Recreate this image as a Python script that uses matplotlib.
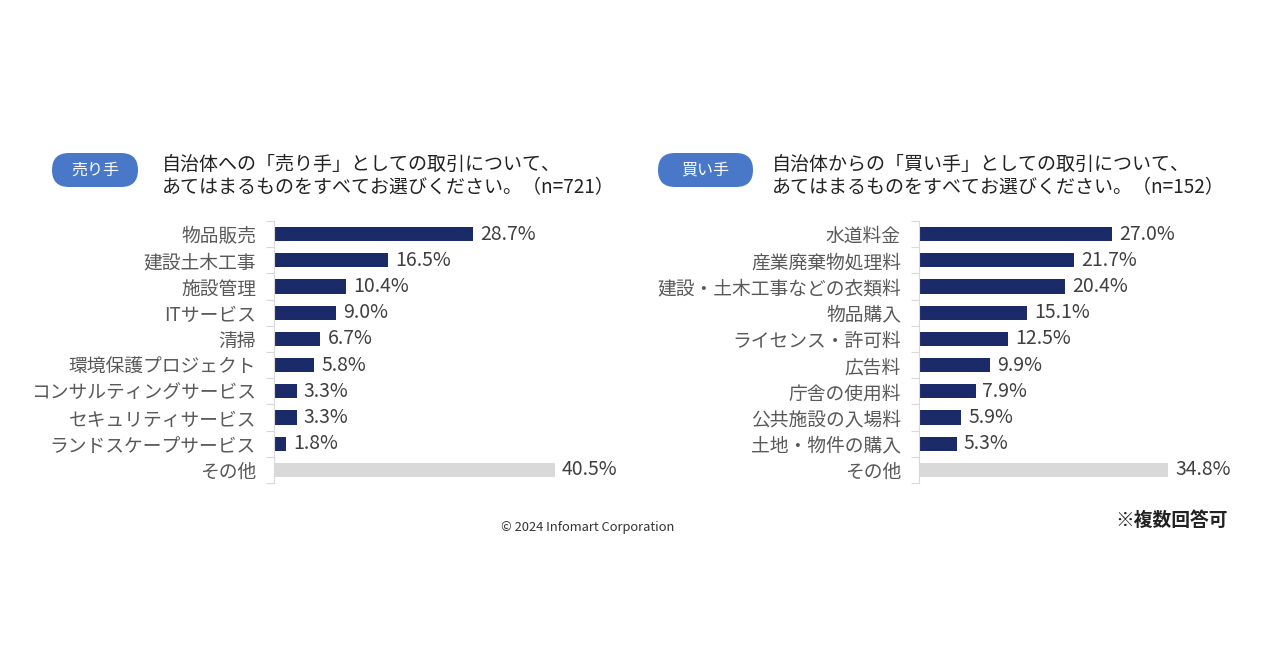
import matplotlib.pyplot as plt
from matplotlib.patches import FancyBboxPatch
from matplotlib.ticker import FixedLocator

plt.rcParams['font.family'] = ['Noto Sans CJK JP', 'DejaVu Sans']

# Seller side (n=721)
sell_items = ['物品販売', '建設土木工事', '施設管理', 'ITサービス', '清掃',
              '環境保護プロジェクト', 'コンサルティングサービス',
              'セキュリティサービス', 'ランドスケープサービス', 'その他']
sell_vals = [28.7, 16.5, 10.4, 9.0, 6.7, 5.8, 3.3, 3.3, 1.8, 40.5]

# Buyer side (n=152)
buy_items = ['水道料金', '産業廃棄物処理料', '建設・土木工事などの衣類料',
             '物品購入', 'ライセンス・許可料', '広告料', '庁舎の使用料',
             '公共施設の入場料', '土地・物件の購入', 'その他']
buy_vals = [27.0, 21.7, 20.4, 15.1, 12.5, 9.9, 7.9, 5.9, 5.3, 34.8]

navy = '#1b2a68'
grey = '#d9d9d9'
badge_blue = '#4a78c8'

W, H = 1280, 670
fig = plt.figure(figsize=(12.8, 6.7), dpi=100)
fig.patch.set_facecolor('white')


def px_axes(x0, y0, w, h):
    return fig.add_axes([x0 / W, 1 - (y0 + h) / H, w / W, h / H])


# overlay in pixel coordinates for the header pieces
bg = fig.add_axes([0, 0, 1, 1])
bg.set_xlim(0, W)
bg.set_ylim(H, 0)
bg.axis('off')


def draw_panel(ax, items, vals, xmax):
    n = len(items)
    y = list(range(n))
    colors = [navy] * (n - 1) + [grey]
    ax.barh(y, vals, height=0.54, color=colors, zorder=2)
    ax.set_ylim(n - 0.5, -0.5)
    ax.set_xlim(0, xmax)
    ax.set_yticks(y)
    ax.set_yticklabels(items, fontsize=13.5, color='#595959')
    ax.yaxis.set_minor_locator(FixedLocator([i - 0.5 for i in range(n + 1)]))
    ax.tick_params(axis='y', which='major', length=0, pad=13)
    ax.tick_params(axis='y', which='minor', length=6, color='#d9d9d9', width=0.8)
    ax.set_xticks([])
    for s in ['top', 'right', 'bottom']:
        ax.spines[s].set_visible(False)
    ax.spines['left'].set_color('#d9d9d9')
    ax.spines['left'].set_linewidth(0.8)
    for yi, v in zip(y, vals):
        ax.annotate(f'{v:.1f}%', (v, yi), xytext=(5, 0), textcoords='offset points',
                    va='center', ha='left', fontsize=14, color='#404040')


ax1 = px_axes(274, 221, 312, 262)
draw_panel(ax1, sell_items, sell_vals, 45)
ax2 = px_axes(919, 221, 322, 262)
draw_panel(ax2, buy_items, buy_vals, 45)


def badge(x0, y0, w, h, text):
    box = FancyBboxPatch((x0, y0), w, h,
                         boxstyle=f'round,pad=0,rounding_size={h / 2}',
                         facecolor=badge_blue, edgecolor='none')
    bg.add_patch(box)
    bg.text(x0 + w / 2, y0 + h / 2, text, ha='center', va='center',
            fontsize=11.5, color='white')


badge(52, 153, 86, 34, '売り手')
badge(658, 153, 95, 34, '買い手')

bg.text(162, 176,
        '自治体への「売り手」としての取引について、\nあてはまるものをすべてお選びください。（n=721）',
        ha='left', va='center', fontsize=13.7, color='#222222', linespacing=1.1)
bg.text(772, 176,
        '自治体からの「買い手」としての取引について、\nあてはまるものをすべてお選びください。（n=152）',
        ha='left', va='center', fontsize=13.7, color='#222222', linespacing=1.1)

bg.text(588, 527, '© 2024 Infomart Corporation', ha='center', va='center',
        fontsize=9.3, color='#333333')
bg.text(1228, 520, '※複数回答可', ha='right', va='center',
        fontsize=13.5, color='#222222', fontweight='bold')

fig.savefig('out.png', dpi=100, facecolor='white')
